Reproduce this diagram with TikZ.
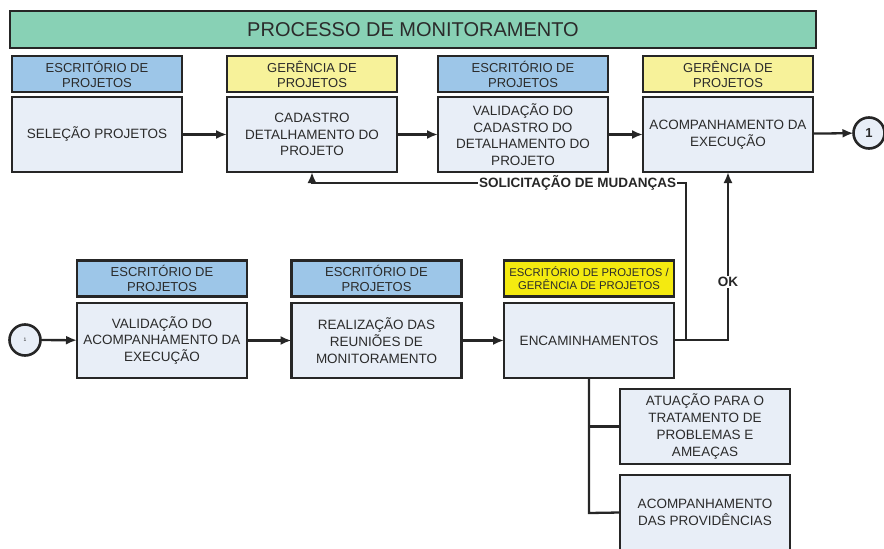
\documentclass[tikz,border=0pt]{standalone}
\usepackage{fontspec}
\setmainfont{Liberation Sans}
\usetikzlibrary{arrows.meta}
\definecolor{titlegreen}{HTML}{88D1B5}
\definecolor{hdrblue}{HTML}{9DC6E8}
\definecolor{hdryellow}{HTML}{F7F29A}
\definecolor{hdrbright}{HTML}{F4EA10}
\definecolor{bodyfill}{HTML}{E8EEF7}
\definecolor{edge}{HTML}{262626}
\definecolor{ink}{HTML}{2B2B2B}
\tikzset{
  base/.style={draw=edge, line width=2.6pt, inner sep=0pt, outer sep=0pt, text=ink, align=center},
  titlebox/.style={base, fill=titlegreen, minimum width=806, minimum height=37, font=\fontsize{20}{24}\selectfont},
  hdr/.style={base, minimum width=170, minimum height=36, font=\fontsize{13}{15}\selectfont},
  hblue/.style={hdr, fill=hdrblue},
  hyellow/.style={hdr, fill=hdryellow},
  hbright/.style={hdr, fill=hdrbright, font=\fontsize{11.3}{13}\selectfont},
  bodybox/.style={base, fill=bodyfill, minimum width=170, minimum height=75, font=\fontsize{13.5}{16.7}\selectfont},
  conn/.style={draw=edge, line width=2.3pt},
  arr/.style={conn, -{Latex[length=11pt,width=9pt]}},
  circ/.style={base, circle, fill=bodyfill, minimum size=31},
  lbl/.style={fill=white, inner sep=1pt, text=edge, font=\bfseries\fontsize{13.5}{16}\selectfont},
}
\begin{document}
\begin{tikzpicture}[x=1pt,y=-1pt]
\useasboundingbox (0,0) rectangle (884,549);
\node[titlebox] (title) at (413,29.5) {PROCESSO DE MONITORAMENTO};
% row 1
\node[hblue]   (h1) at (97,74)  {ESCRITÓRIO DE\\PROJETOS};
\node[hyellow] (h2) at (312,74) {GERÊNCIA DE\\PROJETOS};
\node[hblue]   (h3) at (523,74) {ESCRITÓRIO DE\\PROJETOS};
\node[hyellow] (h4) at (728,74) {GERÊNCIA DE\\PROJETOS};
\node[bodybox] (b1) at (97,134.5)  {SELEÇÃO PROJETOS};
\node[bodybox] (b2) at (312,134.5) {CADASTRO\\DETALHAMENTO DO\\PROJETO};
\node[bodybox] (b3) at (523,134.5) {VALIDAÇÃO DO\\CADASTRO DO\\DETALHAMENTO DO\\PROJETO};
\node[bodybox] (b4) at (728,134.5) {ACOMPANHAMENTO DA\\EXECUÇÃO};
\node[circ, font=\bfseries\fontsize{13}{15}\selectfont] (c1) at (869,133) {1};
% row 2
\node[hblue]   (hr1) at (162,278.5)   {ESCRITÓRIO DE\\PROJETOS};
\node[hblue]   (hr2) at (376.5,278.5) {ESCRITÓRIO DE\\PROJETOS};
\node[hbright] (hr3) at (589,278.5)   {ESCRITÓRIO DE PROJETOS /\\GERÊNCIA DE PROJETOS};
\node[bodybox] (br1) at (162,340.5)   {VALIDAÇÃO DO\\ACOMPANHAMENTO DA\\EXECUÇÃO};
\node[bodybox] (br2) at (376.5,340.5) {REALIZAÇÃO DAS\\REUNIÕES DE\\MONITORAMENTO};
\node[bodybox] (br3) at (589,340.5)   {ENCAMINHAMENTOS};
\node[circ, font=\fontsize{5}{6}\selectfont] (c2) at (25,340) {1};
\node[bodybox] (s1) at (705,426.5) {ATUAÇÃO PARA O\\TRATAMENTO DE\\PROBLEMAS E\\AMEAÇAS};
\node[bodybox] (s2) at (705,512.5) {ACOMPANHAMENTO\\DAS PROVIDÊNCIAS};
% connectors row 1
\draw[arr] (b1) -- (b2);
\draw[arr] (b2) -- (b3);
\draw[arr] (b3) -- (b4);
\draw[arr] (b4) -- (c1);
% row 2
\draw[arr] (c2) -- (br1);
\draw[arr] (br1) -- (br2);
\draw[arr] (br2) -- (br3);
% feedback
\coordinate (fb) at (686,183);
\coordinate (okc) at (728,340);
\draw[arr] (br3.east |- 0,340) -| (fb) -- (312,183) node[lbl, pos=0.29] {SOLICITAÇÃO DE MUDANÇAS} -- (b2.south);
\draw[arr] (br3.east |- 0,340) -- (okc) -- node[lbl, pos=0.345] {OK} (b4.south);
% tree
\coordinate (tb) at (589,513);
\draw[conn] (br3.south) -- (tb) -- (s2.west);
\draw[conn] (br3.south |- s1.west) -- (s1.west);
\end{tikzpicture}
\end{document}
